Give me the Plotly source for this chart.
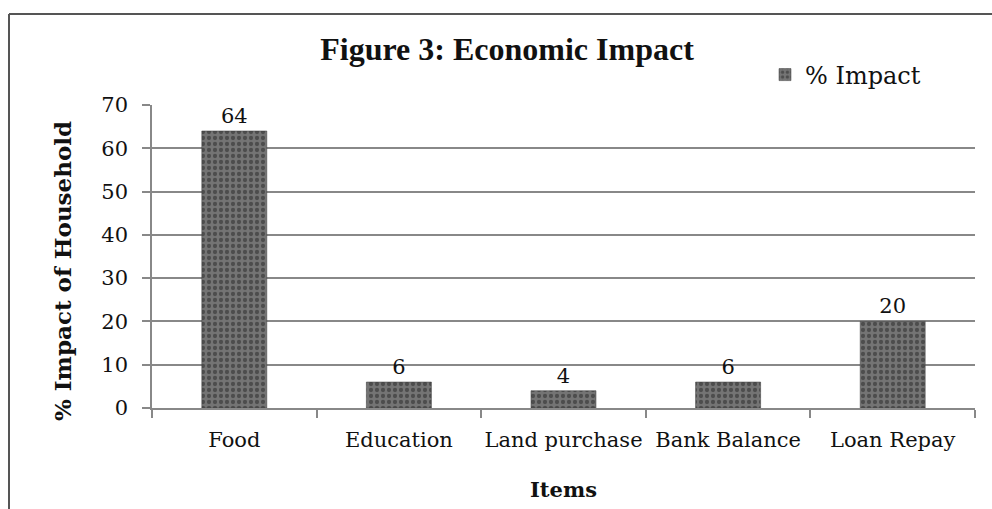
import plotly.graph_objects as go

categories = ["Food", "Education", "Land purchase", "Bank Balance", "Loan Repay"]
impact = [64, 6, 4, 6, 20]
y_ticks = [0, 10, 20, 30, 40, 50, 60, 70]

SERIF = "DejaVu Serif, serif"
TSERIF = "Liberation Serif, Times New Roman, serif"

fig = go.Figure()
fig.add_trace(go.Bar(
    x=categories, y=impact, name="% Impact",
    text=[str(v) for v in impact], textposition="outside",
    textfont=dict(family=SERIF, size=21, color="#111"),
    cliponaxis=False,
    marker=dict(
        color="#606060",
        line=dict(color="#3a3a3a", width=0.5),
        pattern=dict(shape=".", fgcolor="#262626", bgcolor="#747474",
                     size=6, solidity=0.4, fillmode="overlay"),
    ),
    width=0.395,
))

W, H = 992, 509
L, R, T, B = 152, 17, 105, 101
pw, ph = W - L - R, H - T - B

def px(x):
    return (x - L) / pw

def py(y):
    return (H - B - y) / ph

fig.update_layout(
    width=W, height=H,
    margin=dict(l=L, r=R, t=T, b=B, autoexpand=False),
    paper_bgcolor="white", plot_bgcolor="white",
    font=dict(family=SERIF, color="#111"),
    title=dict(text="<b>Figure 3: Economic Impact</b>", x=507 / W, xanchor="center",
               y=1 - 49 / H, yanchor="middle", automargin=False,
               font=dict(family=TSERIF, size=32, color="#111")),
    showlegend=True,
    legend=dict(x=px(765), y=py(75), xanchor="left", yanchor="middle",
                font=dict(family=SERIF, size=24, color="#111"),
                bgcolor="rgba(0,0,0,0)", itemwidth=30),
    bargap=0.6,
    xaxis=dict(
        type="category", showline=True, linecolor="#888", linewidth=1.5,
        ticks="outside", tickson="boundaries", ticklen=8, tickcolor="#888", tickwidth=1.5,
        tickangle=0, automargin=False,
        tickfont=dict(family=SERIF, size=21, color="#111"), ticklabelstandoff=12,
        title=dict(text="<b>Items</b>", font=dict(family=SERIF, size=21, color="#111"), standoff=31),
        showgrid=False,
    ),
    yaxis=dict(
        range=[0, 70], tickvals=y_ticks, showline=True, linecolor="#888", linewidth=1.5,
        ticks="outside", ticklen=8, tickcolor="#888", tickwidth=1.5, automargin=False,
        tickfont=dict(family=SERIF, size=21, color="#111"), ticklabelstandoff=10,
        showgrid=True, gridcolor="#888", gridwidth=1.5, zeroline=False,
    ),
    annotations=[dict(
        text="<b>% Impact of Household</b>", textangle=-90,
        x=px(62), y=py(271), xref="paper", yref="paper", xanchor="center", yanchor="middle",
        showarrow=False, font=dict(family=SERIF, size=23, color="#111"),
    )],
    shapes=[
        dict(type="line", xref="paper", yref="paper", x0=px(9), x1=px(995), y0=py(14), y1=py(14),
             line=dict(color="#555", width=2)),
        dict(type="line", xref="paper", yref="paper", x0=px(9), x1=px(9), y0=py(14), y1=py(515),
             line=dict(color="#555", width=2)),
    ],
)

fig.write_html("out.html", config={"displayModeBar": False},
               post_script="document.body.style.margin='0';")
